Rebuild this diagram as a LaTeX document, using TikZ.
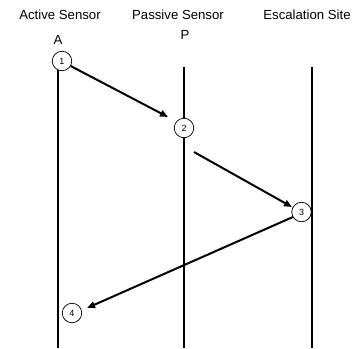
\documentclass[tikz,border=0pt]{standalone}
\usepackage{fontspec}
\setmainfont{Liberation Sans}
\usetikzlibrary{arrows.meta}
\begin{document}
\begin{tikzpicture}[x=1pt,y=-1pt,
  lifeline/.style={line width=2pt},
  msg/.style={line width=2pt,-{Triangle[length=8pt,width=6.5pt]}},
  stepmark/.style={circle,draw,line width=0.7pt,fill=white,minimum size=19.5pt,inner sep=0pt,font=\fontsize{9}{10}\selectfont},
  head/.style={font=\fontsize{13.2}{15}\selectfont,inner sep=0pt}]
\useasboundingbox (0,0) rectangle (356,348);
% column titles
\node[head] (tA) at (60,15) {Active Sensor};
\node[head] (tP) at (178,15) {Passive Sensor};
\node[head] (tE) at (307,15) {Escalation Site};
\node[head] (lA) at (58,40) {A};
\node[head] (lP) at (185,35) {P};
% lifelines
\coordinate (a0) at (58,66);  \coordinate (a1) at (58,348);
\coordinate (p0) at (184,67); \coordinate (p1) at (184,348);
\coordinate (e0) at (312,67); \coordinate (e1) at (312,348);
\draw[lifeline] (a0) -- (a1);
\draw[lifeline] (p0) -- (p1);
\draw[lifeline] (e0) -- (e1);
% numbered steps
\node[stepmark] (s1) at (62,61) {1};
\node[stepmark] (s2) at (184,128) {2};
\node[stepmark] (s3) at (301.5,212) {3};
\node[stepmark] (s4) at (72,313) {4};
% messages
\coordinate (m2a) at (194,152);
\draw[msg] (s1.-30) -- (168,117);
\draw[msg] (m2a) -- (292,207);
\draw[msg] (s3.-150) -- (87,308);
\end{tikzpicture}
\end{document}
